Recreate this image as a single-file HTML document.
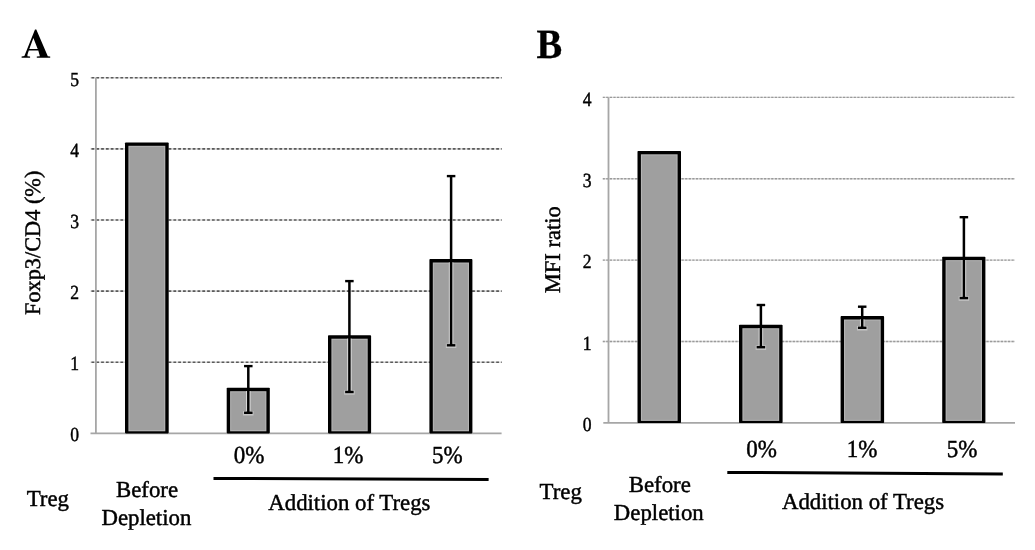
<!DOCTYPE html>
<html><head><meta charset="utf-8"><style>
html,body{margin:0;padding:0;background:#fff;}
svg{display:block;font-family:"Liberation Serif", serif;filter:blur(0.45px);}
text{stroke:#000;stroke-width:0.45px;text-rendering:geometricPrecision;}
</style></head><body>
<svg width="1035" height="550" viewBox="0 0 1035 550">
<rect width="1035" height="550" fill="#fff"/>
<path fill="#000" fill-rule="evenodd" d="M35.0 29.5 L36.3 29.5 L47.8 56.2 L50.2 56.6 L50.2 57.8 L36.8 57.8 L36.8 56.6 L39.9 56.2 L38.3 50.4 L28.8 50.4 L27.5 54.4 L27.4 56.2 L30.1 56.6 L30.1 57.8 L21.6 57.8 L21.6 56.6 L24.4 56.1 Z M33.4 38.0 L37.7 49.1 L29.3 49.1 Z"/>
<line x1="90.5" y1="77.70" x2="501.7" y2="77.70" stroke="#dadada" stroke-width="1.6"/>
<line x1="90.5" y1="77.70" x2="501.7" y2="77.70" stroke="#5a5a5a" stroke-width="1.6" stroke-dasharray="2.75 2.068" stroke-dashoffset="-0.99"/>
<line x1="90.5" y1="148.90" x2="501.7" y2="148.90" stroke="#dadada" stroke-width="1.6"/>
<line x1="90.5" y1="148.90" x2="501.7" y2="148.90" stroke="#5a5a5a" stroke-width="1.6" stroke-dasharray="2.75 2.068" stroke-dashoffset="-0.99"/>
<line x1="90.5" y1="220.00" x2="501.7" y2="220.00" stroke="#dadada" stroke-width="1.6"/>
<line x1="90.5" y1="220.00" x2="501.7" y2="220.00" stroke="#5a5a5a" stroke-width="1.6" stroke-dasharray="2.75 2.068" stroke-dashoffset="-0.99"/>
<line x1="90.5" y1="291.10" x2="501.7" y2="291.10" stroke="#dadada" stroke-width="1.6"/>
<line x1="90.5" y1="291.10" x2="501.7" y2="291.10" stroke="#5a5a5a" stroke-width="1.6" stroke-dasharray="2.75 2.068" stroke-dashoffset="-0.99"/>
<line x1="90.5" y1="362.20" x2="501.7" y2="362.20" stroke="#dadada" stroke-width="1.6"/>
<line x1="90.5" y1="362.20" x2="501.7" y2="362.20" stroke="#5a5a5a" stroke-width="1.6" stroke-dasharray="2.75 2.068" stroke-dashoffset="-0.99"/>
<line x1="95.9" y1="77.7" x2="95.9" y2="433.3" stroke="#a6a6a6" stroke-width="1.8"/>
<line x1="90.5" y1="433.3" x2="501.6" y2="433.3" stroke="#a6a6a6" stroke-width="1.8"/>
<text transform="translate(79.0,85.60) scale(0.88,1)" font-size="20" text-anchor="end">5</text>
<text transform="translate(79.0,156.80) scale(0.88,1)" font-size="20" text-anchor="end">4</text>
<text transform="translate(79.0,227.90) scale(0.88,1)" font-size="20" text-anchor="end">3</text>
<text transform="translate(79.0,299.00) scale(0.88,1)" font-size="20" text-anchor="end">2</text>
<text transform="translate(79.0,370.10) scale(0.88,1)" font-size="20" text-anchor="end">1</text>
<text transform="translate(79.0,441.20) scale(0.88,1)" font-size="20" text-anchor="end">0</text>
<rect x="125.00" y="142.40" width="43.70" height="291.00" fill="#000" rx="0.8"/>
<rect x="128.40" y="145.80" width="36.90" height="285.50" fill="#b4b4b4"/>
<rect x="129.50" y="146.90" width="34.70" height="283.30" fill="#9f9f9f"/>
<rect x="226.70" y="387.80" width="43.10" height="45.60" fill="#000" rx="0.8"/>
<rect x="230.10" y="391.20" width="36.30" height="40.10" fill="#b4b4b4"/>
<rect x="231.20" y="392.30" width="34.10" height="37.90" fill="#9f9f9f"/>
<rect x="328.00" y="335.30" width="43.10" height="98.10" fill="#000" rx="0.8"/>
<rect x="331.40" y="338.70" width="36.30" height="92.60" fill="#b4b4b4"/>
<rect x="332.50" y="339.80" width="34.10" height="90.40" fill="#9f9f9f"/>
<rect x="429.40" y="259.10" width="43.00" height="174.30" fill="#000" rx="0.8"/>
<rect x="432.80" y="262.50" width="36.20" height="168.80" fill="#b4b4b4"/>
<rect x="433.90" y="263.60" width="34.00" height="166.60" fill="#9f9f9f"/>
<line x1="248.30" y1="391.10" x2="248.30" y2="412.80" stroke="#dcdcdc" stroke-width="4.5"/>
<line x1="243.05" y1="413.30" x2="253.55" y2="413.30" stroke="#c4c4c4" stroke-width="4.4"/>
<line x1="248.30" y1="366.10" x2="248.30" y2="412.80" stroke="#000" stroke-width="2.5"/>
<line x1="244.05" y1="366.10" x2="252.55" y2="366.10" stroke="#000" stroke-width="2.4"/>
<line x1="244.05" y1="412.80" x2="252.55" y2="412.80" stroke="#000" stroke-width="2.4"/>
<line x1="349.40" y1="338.60" x2="349.40" y2="392.00" stroke="#dcdcdc" stroke-width="4.5"/>
<line x1="344.15" y1="392.50" x2="354.65" y2="392.50" stroke="#c4c4c4" stroke-width="4.4"/>
<line x1="349.40" y1="281.10" x2="349.40" y2="392.00" stroke="#000" stroke-width="2.5"/>
<line x1="345.15" y1="281.10" x2="353.65" y2="281.10" stroke="#000" stroke-width="2.4"/>
<line x1="345.15" y1="392.00" x2="353.65" y2="392.00" stroke="#000" stroke-width="2.4"/>
<line x1="451.10" y1="262.40" x2="451.10" y2="345.30" stroke="#dcdcdc" stroke-width="4.5"/>
<line x1="445.85" y1="345.80" x2="456.35" y2="345.80" stroke="#c4c4c4" stroke-width="4.4"/>
<line x1="451.10" y1="176.10" x2="451.10" y2="345.30" stroke="#000" stroke-width="2.5"/>
<line x1="446.85" y1="176.10" x2="455.35" y2="176.10" stroke="#000" stroke-width="2.4"/>
<line x1="446.85" y1="345.30" x2="455.35" y2="345.30" stroke="#000" stroke-width="2.4"/>
<text transform="translate(39.9,315) rotate(-90)" font-size="22.3">Foxp3/CD4 (%)</text>
<text transform="translate(249,462.8) scale(1,1.07)" font-size="23" text-anchor="middle">0%</text>
<text transform="translate(348.1,462.8) scale(1,1.07)" font-size="23" text-anchor="middle">1%</text>
<text transform="translate(447.3,462.8) scale(1,1.07)" font-size="23" text-anchor="middle">5%</text>
<line x1="213.5" y1="478.4" x2="488.6" y2="479.6" stroke="#000" stroke-width="3"/>
<text x="349.35" y="509.90" font-size="22.8" text-anchor="middle" font-weight="normal" >Addition of Tregs</text>
<text x="47.80" y="505.60" font-size="22.8" text-anchor="middle" font-weight="normal" >Treg</text>
<text x="147.00" y="497.00" font-size="22.8" text-anchor="middle" font-weight="normal" >Before</text>
<text x="146.40" y="524.50" font-size="22.8" text-anchor="middle" font-weight="normal" >Depletion</text>
<text transform="translate(536.6,57.8) scale(0.94,1.02)" font-size="41" font-weight="bold" style="stroke-width:0.3px">B</text>
<line x1="602.8" y1="97.40" x2="1015" y2="97.40" stroke="#dadada" stroke-width="1.4"/>
<line x1="602.8" y1="97.40" x2="1015" y2="97.40" stroke="#9a9a9a" stroke-width="1.4" stroke-dasharray="2.2 1.387" stroke-dashoffset="0.17"/>
<line x1="602.8" y1="178.80" x2="1015" y2="178.80" stroke="#dadada" stroke-width="1.4"/>
<line x1="602.8" y1="178.80" x2="1015" y2="178.80" stroke="#9a9a9a" stroke-width="1.4" stroke-dasharray="2.2 1.387" stroke-dashoffset="0.17"/>
<line x1="602.8" y1="260.10" x2="1015" y2="260.10" stroke="#dadada" stroke-width="1.4"/>
<line x1="602.8" y1="260.10" x2="1015" y2="260.10" stroke="#9a9a9a" stroke-width="1.4" stroke-dasharray="2.2 1.387" stroke-dashoffset="0.17"/>
<line x1="602.8" y1="341.50" x2="1015" y2="341.50" stroke="#dadada" stroke-width="1.4"/>
<line x1="602.8" y1="341.50" x2="1015" y2="341.50" stroke="#9a9a9a" stroke-width="1.4" stroke-dasharray="2.2 1.387" stroke-dashoffset="0.17"/>
<line x1="608.5" y1="97.4" x2="608.5" y2="422.8" stroke="#a6a6a6" stroke-width="1.8"/>
<line x1="603.3" y1="422.8" x2="1015" y2="422.8" stroke="#a6a6a6" stroke-width="1.8"/>
<text transform="translate(591.6,105.50) scale(0.88,1)" font-size="20" text-anchor="end">4</text>
<text transform="translate(591.6,186.90) scale(0.88,1)" font-size="20" text-anchor="end">3</text>
<text transform="translate(591.6,268.20) scale(0.88,1)" font-size="20" text-anchor="end">2</text>
<text transform="translate(591.6,349.60) scale(0.88,1)" font-size="20" text-anchor="end">1</text>
<text transform="translate(591.6,430.90) scale(0.88,1)" font-size="20" text-anchor="end">0</text>
<rect x="637.50" y="150.90" width="43.50" height="272.10" fill="#000" rx="0.8"/>
<rect x="640.90" y="154.30" width="36.70" height="266.60" fill="#b4b4b4"/>
<rect x="642.00" y="155.40" width="34.50" height="264.40" fill="#9f9f9f"/>
<rect x="739.00" y="324.80" width="43.60" height="98.20" fill="#000" rx="0.8"/>
<rect x="742.40" y="328.20" width="36.80" height="92.70" fill="#b4b4b4"/>
<rect x="743.50" y="329.30" width="34.60" height="90.50" fill="#9f9f9f"/>
<rect x="840.60" y="316.10" width="43.50" height="106.90" fill="#000" rx="0.8"/>
<rect x="844.00" y="319.50" width="36.70" height="101.40" fill="#b4b4b4"/>
<rect x="845.10" y="320.60" width="34.50" height="99.20" fill="#9f9f9f"/>
<rect x="942.20" y="256.70" width="43.20" height="166.30" fill="#000" rx="0.8"/>
<rect x="945.60" y="260.10" width="36.40" height="160.80" fill="#b4b4b4"/>
<rect x="946.70" y="261.20" width="34.20" height="158.60" fill="#9f9f9f"/>
<line x1="760.90" y1="328.10" x2="760.90" y2="347.20" stroke="#dcdcdc" stroke-width="4.5"/>
<line x1="755.65" y1="347.70" x2="766.15" y2="347.70" stroke="#c4c4c4" stroke-width="4.4"/>
<line x1="760.90" y1="305.00" x2="760.90" y2="347.20" stroke="#000" stroke-width="2.5"/>
<line x1="756.65" y1="305.00" x2="765.15" y2="305.00" stroke="#000" stroke-width="2.4"/>
<line x1="756.65" y1="347.20" x2="765.15" y2="347.20" stroke="#000" stroke-width="2.4"/>
<line x1="862.20" y1="319.40" x2="862.20" y2="327.80" stroke="#dcdcdc" stroke-width="4.5"/>
<line x1="856.95" y1="328.30" x2="867.45" y2="328.30" stroke="#c4c4c4" stroke-width="4.4"/>
<line x1="862.20" y1="306.70" x2="862.20" y2="327.80" stroke="#000" stroke-width="2.5"/>
<line x1="857.95" y1="306.70" x2="866.45" y2="306.70" stroke="#000" stroke-width="2.4"/>
<line x1="857.95" y1="327.80" x2="866.45" y2="327.80" stroke="#000" stroke-width="2.4"/>
<line x1="963.90" y1="260.00" x2="963.90" y2="298.10" stroke="#dcdcdc" stroke-width="4.5"/>
<line x1="958.65" y1="298.60" x2="969.15" y2="298.60" stroke="#c4c4c4" stroke-width="4.4"/>
<line x1="963.90" y1="217.20" x2="963.90" y2="298.10" stroke="#000" stroke-width="2.5"/>
<line x1="959.65" y1="217.20" x2="968.15" y2="217.20" stroke="#000" stroke-width="2.4"/>
<line x1="959.65" y1="298.10" x2="968.15" y2="298.10" stroke="#000" stroke-width="2.4"/>
<text transform="translate(560.4,293.2) rotate(-90)" font-size="22.5">MFI ratio</text>
<text transform="translate(761.5,456.7) scale(1,1.07)" font-size="23" text-anchor="middle">0%</text>
<text transform="translate(862,456.7) scale(1,1.07)" font-size="23" text-anchor="middle">1%</text>
<text transform="translate(962.2,456.7) scale(1,1.07)" font-size="23" text-anchor="middle">5%</text>
<line x1="727.3" y1="472.4" x2="1002.8" y2="474" stroke="#000" stroke-width="3"/>
<text x="863.00" y="508.80" font-size="22.8" text-anchor="middle" font-weight="normal" >Addition of Tregs</text>
<text x="560.70" y="499.30" font-size="22.8" text-anchor="middle" font-weight="normal" >Treg</text>
<text x="659.80" y="492.20" font-size="22.8" text-anchor="middle" font-weight="normal" >Before</text>
<text x="658.80" y="519.80" font-size="22.8" text-anchor="middle" font-weight="normal" >Depletion</text>
</svg>
</body></html>
